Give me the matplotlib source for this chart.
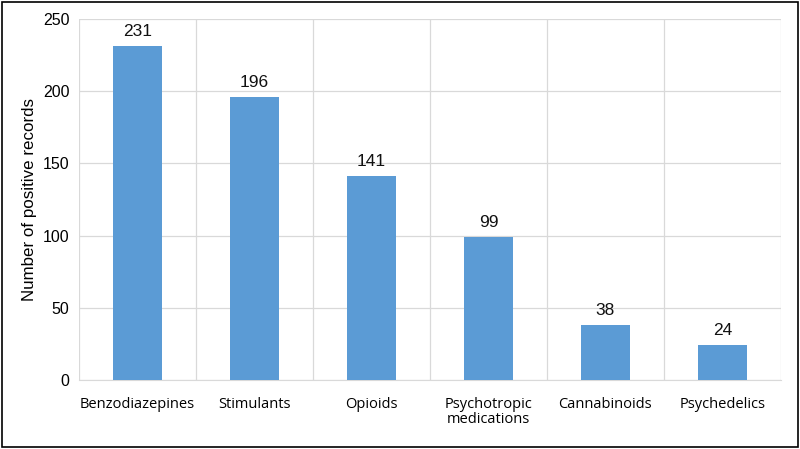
import matplotlib.pyplot as plt
from matplotlib.patches import Rectangle
import numpy as np

categories = ["Benzodiazepines", "Stimulants", "Opioids",
              "Psychotropic\nmedications", "Cannabinoids", "Psychedelics"]
counts = [231, 196, 141, 99, 38, 24]
y_ticks = [0, 50, 100, 150, 200, 250]

bar_color = "#5B9BD5"
grid_color = "#D9D9D9"

fig = plt.figure(figsize=(8, 4.49), dpi=100)
ax = fig.add_axes([0.099, 0.1537, 0.877, 0.804])

x = np.arange(len(categories))
ax.bar(x, counts, width=0.42, color=bar_color, zorder=3)
for xi, v in zip(x, counts):
    ax.text(xi, v + 5, str(v), ha="center", va="bottom", fontsize=12.5,
            family="Liberation Sans", color="#111111")

ax.set_xlim(-0.5, len(categories) - 0.5)
ax.set_ylim(0, 250)
ax.set_yticks(y_ticks)
ax.set_yticklabels([str(t) for t in y_ticks], family="Liberation Sans", fontsize=11.5)
ax.set_xticks(x)
ax.set_xticklabels(categories, family="Open Sans", fontsize=10.5, linespacing=1.05)
ax.set_xticks(np.arange(-0.5, len(categories), 1.0), minor=True)
ax.tick_params(axis="both", which="both", length=0)
ax.tick_params(axis="x", pad=12)
ax.tick_params(axis="y", pad=7)

ax.grid(axis="y", which="major", color=grid_color, lw=0.9, zorder=0)
ax.grid(axis="x", which="minor", color=grid_color, lw=0.9, zorder=0)
for s in ["top", "right", "left"]:
    ax.spines[s].set_visible(False)
ax.spines["bottom"].set_color(grid_color)

ax.set_ylabel("Number of positive records", family="Liberation Sans", fontsize=12.2, labelpad=4)

fig.patches.append(Rectangle((0.002, 0.004), 0.995, 0.992, transform=fig.transFigure,
                             fill=False, edgecolor="black", lw=1.2))

fig.savefig("out.png", dpi=100)
